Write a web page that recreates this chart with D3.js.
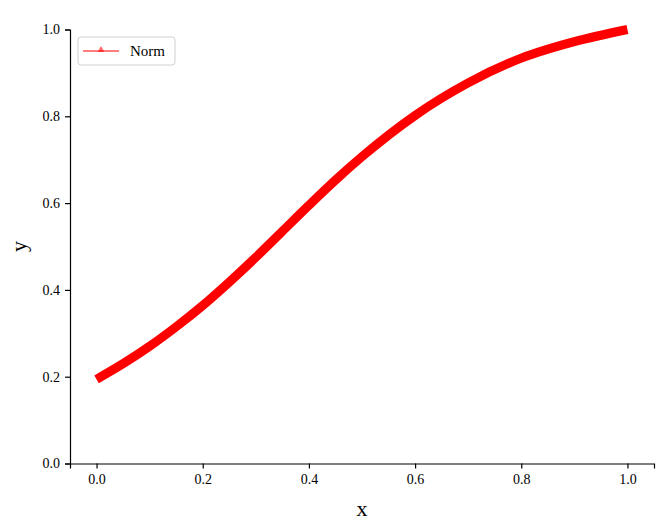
<!DOCTYPE html>
<html>
<head>
<meta charset="utf-8">
<script src="https://cdn.jsdelivr.net/npm/d3@7"></script>
<style>
  body { margin: 0; background: #fff; }
  svg text { font-family: "Liberation Serif", "Times New Roman", serif; }
</style>
</head>
<body>
<div id="chart"></div>
<script>
// values
var xs = [0, 0.05, 0.1, 0.15, 0.2, 0.25, 0.3, 0.35, 0.4, 0.45, 0.5, 0.6, 0.7, 0.8, 0.9, 1.0]
var ys = [0.194, 0.230, 0.270, 0.315, 0.364, 0.418, 0.475, 0.535, 0.595, 0.653, 0.707, 0.802, 0.877, 0.934, 0.972, 1.0]
var xTicks = [0, 0.2, 0.4, 0.6, 0.8, 1.0]
var yTicks = [0, 0.2, 0.4, 0.6, 0.8, 1.0]
var seriesName = 'Norm'

var data = xs.map(function(x, i){ return {x: x, y: ys[i]} })

var W = 664, H = 521
var margin = {left: 70, right: 10, top: 29.5, bottom: 57.5}
var width = W - margin.left - margin.right
var height = H - margin.top - margin.bottom

var svg = d3.select('#chart').append('svg')
  .attr('width', W).attr('height', H)

var g = svg.append('g').attr('transform', 'translate(' + margin.left + ',' + margin.top + ')')

var x = d3.scaleLinear().domain([-0.05, 1.05]).range([0, width])
var y = d3.scaleLinear().domain([0, 1]).range([height, 0])

var xAxis = d3.axisBottom(x).tickValues(xTicks).tickFormat(d3.format('.1f')).tickSize(5).tickPadding(6)
var yAxis = d3.axisLeft(y).tickValues(yTicks).tickFormat(d3.format('.1f')).tickSize(5).tickPadding(5)

var gx = g.append('g').attr('transform', 'translate(0,' + height + ')').call(xAxis)
var gy = g.append('g').call(yAxis)

;[gx, gy].forEach(function(a){
  a.selectAll('path').attr('stroke', '#000').attr('stroke-width', 1.2)
  a.selectAll('line').attr('stroke', '#000').attr('stroke-width', 1.2)
  a.selectAll('text').attr('font-size', 14).attr('fill', '#000')
    .style('font-family', '"Liberation Serif", serif')
})

// curve
var line = d3.line().x(function(d){ return x(d.x) }).y(function(d){ return y(d.y) })
  .curve(d3.curveMonotoneX)

g.append('path').datum(data)
  .attr('d', line)
  .attr('fill', 'none')
  .attr('stroke', '#ff0000')
  .attr('stroke-width', 9)
  .attr('stroke-linecap', 'butt')

// axis labels
svg.append('text')
  .attr('x', margin.left + x(0.5)).attr('y', 516)
  .attr('text-anchor', 'middle').attr('font-size', 22)
  .text('x')

svg.append('text')
  .attr('transform', 'translate(26,' + (margin.top + height / 2) + ') rotate(-90)')
  .attr('text-anchor', 'middle').attr('font-size', 22)
  .text('y')

// legend
var leg = svg.append('g').attr('transform', 'translate(78,37)')
leg.append('rect')
  .attr('width', 97).attr('height', 28).attr('rx', 3)
  .attr('fill', '#fff').attr('stroke', '#d0d0d0')
leg.append('line')
  .attr('x1', 5).attr('x2', 41).attr('y1', 14).attr('y2', 14)
  .attr('stroke', 'red').attr('stroke-opacity', 0.5).attr('stroke-width', 2)
leg.append('path')
  .attr('d', d3.symbol().type(d3.symbolTriangle).size(20))
  .attr('transform', 'translate(23,13)')
  .attr('fill', 'red').attr('fill-opacity', 0.6)
leg.append('text')
  .attr('x', 52).attr('y', 19)
  .attr('font-size', 15)
  .text(seriesName)
</script>
</body>
</html>
